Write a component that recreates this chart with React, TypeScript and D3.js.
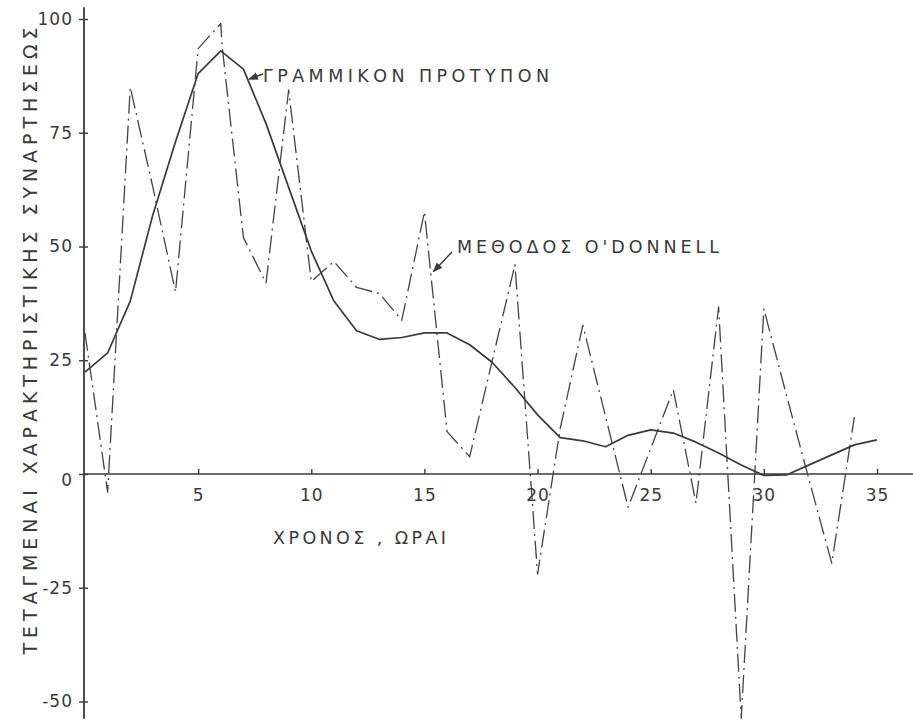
import { useEffect, useRef } from "react";
import * as d3 from "d3";

// ΓΡΑΜΜΙΚΟΝ ΠΡΟΤΥΠΟΝ (solid curve), hourly
const modelHours = [0, 1, 2, 3, 4, 5, 6, 7, 8, 9, 10, 11, 12, 13, 14, 15, 16, 17, 18, 19, 20, 21, 22, 23, 24, 25, 26, 27, 28, 29, 30, 31, 32, 33, 34, 35];
const modelValues = [22.4, 26.6, 38, 57, 73, 88, 93, 89, 77, 63, 49, 38, 31.5, 29.6, 30, 31, 31, 28.4, 24.5, 19, 13, 8, 7.3, 6, 8.5, 9.7, 9, 7, 4.6, 2, -0.3, -0.2, 2, 4.2, 6.4, 7.5];

// ΜΕΘΟΔΟΣ O'DONNELL (dash-dot)
const odonnellHours = [0, 1, 2, 3, 4, 5, 6, 6.06, 7, 8, 9, 10, 11, 12, 13, 14, 15, 16, 17, 18, 19, 20, 21, 22, 23, 24, 25, 26, 27, 28, 29, 30, 31, 32, 33, 34];
const odonnellValues = [31, -4, 85, 63, 40, 93.5, 99, 94, 52, 42, 84.4, 42.3, 46.7, 41, 39.7, 33.8, 57.6, 9.3, 3.8, 25, 46, -22, 10, 32.7, 12.7, -7.3, 5.6, 18.5, -6.4, 36.7, -53.7, 36.3, 17.3, -1.3, -19.6, 12.5];

const xTicks = [5, 10, 15, 20, 25, 30, 35];
const yTicks = [-50, -25, 0, 25, 50, 75, 100];

const INK = "#3a3a3a";
const FONT = "'DejaVu Sans', 'Liberation Sans', sans-serif";

export default function App() {
    const svgRef = useRef(null);

    useEffect(() => {
        const svg = d3.select(svgRef.current);
        svg.selectAll("*").remove();

        const x = d3.scaleLinear().domain([0, 35]).range([85, 877]);
        const y = d3.scaleLinear().domain([-50, 100]).range([701.5, 19]);

        svg.append("rect").attr("width", 913).attr("height", 721).attr("fill", "#fefefe");

        // axes lines
        svg.append("line")
            .attr("x1", x(0) - 1).attr("x2", 913)
            .attr("y1", y(0)).attr("y2", y(0))
            .attr("stroke", INK).attr("stroke-width", 1.6);
        svg.append("line")
            .attr("x1", x(0) - 1).attr("x2", x(0) - 1)
            .attr("y1", y(102.6)).attr("y2", y(-53.8))
            .attr("stroke", INK).attr("stroke-width", 1.8);

        // x axis ticks (small, pointing up)
        const xAxis = d3.axisBottom(x)
            .tickValues(xTicks)
            .tickSizeInner(-5)
            .tickSizeOuter(0)
            .tickPadding(15)
            .tickFormat((d) => String(d));
        const gx = svg.append("g").attr("transform", `translate(0, ${y(0)})`).call(xAxis);
        gx.select(".domain").remove();

        // y axis ticks (crossing the axis line)
        const yAxis = d3.axisLeft(y)
            .tickValues(yTicks)
            .tickSizeInner(5)
            .tickSizeOuter(0)
            .tickPadding(6)
            .tickFormat((d) => String(d));
        const gy = svg.append("g").attr("transform", `translate(${x(0) - 1}, 0)`).call(yAxis);
        gy.select(".domain").remove();
        gy.selectAll(".tick line").attr("x1", 4);
        gy.selectAll(".tick text")
            .filter((d) => d === 0)
            .attr("dy", "0.7em");

        svg.selectAll(".tick line").attr("stroke", INK).attr("stroke-width", 1.4);
        svg.selectAll(".tick text")
            .attr("fill", INK)
            .attr("font-family", FONT)
            .attr("font-size", 17)
            .attr("letter-spacing", 1);

        const line = d3.line()
            .x((d) => x(d[0]))
            .y((d) => y(d[1]));

        const modelData = modelHours.map((h, i) => [h, modelValues[i]]);
        const odonnellData = odonnellHours.map((h, i) => [h, odonnellValues[i]]);

        svg.append("path")
            .datum(odonnellData)
            .attr("fill", "none")
            .attr("stroke", "#444")
            .attr("stroke-width", 1.3)
            .attr("stroke-dasharray", "18,5,2,5")
            .attr("stroke-linejoin", "round")
            .attr("d", line);

        svg.append("path")
            .datum(modelData)
            .attr("fill", "none")
            .attr("stroke", INK)
            .attr("stroke-width", 1.7)
            .attr("stroke-linejoin", "round")
            .attr("d", line);

        // arrow marker
        svg.append("defs").append("marker")
            .attr("id", "head")
            .attr("viewBox", "0 0 10 10")
            .attr("refX", 9).attr("refY", 5)
            .attr("markerWidth", 7).attr("markerHeight", 7)
            .attr("orient", "auto")
            .append("path").attr("d", "M0,1 L10,5 L0,9 Z").attr("fill", INK);

        const annotations = [
            { text: "ΓΡΑΜΜΙΚΟΝ ΠΡΟΤΥΠΟΝ", tip: [7.25, 86.8], tx: 263, ty: 82, len: 286, from: [263, 74] },
            { text: "ΜΕΘΟΔΟΣ O'DONNELL", tip: [15.4, 44.5], tx: 457, ty: 253, len: 262, from: [452, 252] },
        ];
        annotations.forEach((a) => {
            svg.append("line")
                .attr("x1", a.from[0]).attr("y1", a.from[1])
                .attr("x2", x(a.tip[0])).attr("y2", y(a.tip[1]))
                .attr("stroke", INK).attr("stroke-width", 1.4)
                .attr("marker-end", "url(#head)");
            svg.append("text")
                .attr("x", a.tx).attr("y", a.ty)
                .attr("fill", INK)
                .attr("font-family", FONT)
                .attr("font-size", 17.5)
                .attr("textLength", a.len)
                .attr("lengthAdjust", "spacing")
                .text(a.text);
        });

        // axis titles
        svg.append("text")
            .attr("x", 273).attr("y", 544)
            .attr("fill", INK)
            .attr("font-family", FONT)
            .attr("font-size", 17.5)
            .attr("textLength", 173)
            .attr("lengthAdjust", "spacing")
            .text("ΧΡΟΝΟΣ , ΩΡΑΙ");

        svg.append("text")
            .attr("transform", `translate(37, 341) rotate(-90)`)
            .attr("text-anchor", "middle")
            .attr("fill", INK)
            .attr("font-family", FONT)
            .attr("font-size", 19)
            .attr("textLength", 627)
            .attr("lengthAdjust", "spacing")
            .text("ΤΕΤΑΓΜΕΝΑΙ ΧΑΡΑΚΤΗΡΙΣΤΙΚΗΣ ΣΥΝΑΡΤΗΣΕΩΣ");
    }, []);

    return (
        <svg
            ref={svgRef}
            width={913}
            height={721}
            style={{ position: "absolute", left: 0, top: 0, display: "block" }}
        />
    );
}
